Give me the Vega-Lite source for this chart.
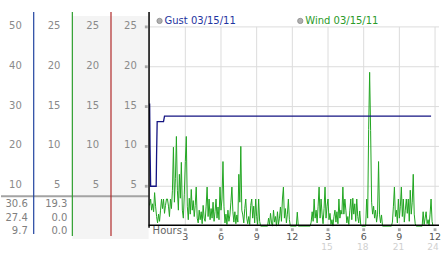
{
  "$schema": "https://vega.github.io/schema/vega-lite/v6.json",
  "width": 442,
  "height": 253,
  "autosize": {"type": "fit", "contains": "padding"},
  "padding": 0,
  "background": "white",
  "config": {"view": {"stroke": null}, "text": {"font": "DejaVu Sans", "fontSize": 10}},
  "encoding": {
    "x": {"field": "t", "type": "quantitative", "scale": {"domain": [-750, 1460], "nice": false, "zero": false}, "axis": null},
    "y": {"field": "v", "type": "quantitative", "scale": {"domain": [-3.25, 28.375], "nice": false, "zero": false}, "axis": null}
  },
  "layer": [
    {
      "data": {"values": [{"t": -390, "t2": -5, "v": 26.375, "v2": -1.625}]},
      "mark": {"type": "rect", "color": "#f4f4f4"},
      "encoding": {"x2": {"field": "t2"}, "y2": {"field": "v2"}}
    },
    {
      "data": {"values": [
        {"t": 0, "t2": 1460, "v": 5, "v2": 5},
        {"t": 0, "t2": 1460, "v": 10, "v2": 10},
        {"t": 0, "t2": 1460, "v": 15, "v2": 15},
        {"t": 0, "t2": 1460, "v": 20, "v2": 20},
        {"t": 0, "t2": 1460, "v": 25, "v2": 25},
        {"t": 180, "t2": 180, "v": 0, "v2": 25},
        {"t": 360, "t2": 360, "v": 0, "v2": 25},
        {"t": 540, "t2": 540, "v": 0, "v2": 25},
        {"t": 720, "t2": 720, "v": 0, "v2": 25},
        {"t": 900, "t2": 900, "v": 0, "v2": 25},
        {"t": 1080, "t2": 1080, "v": 0, "v2": 25},
        {"t": 1260, "t2": 1260, "v": 0, "v2": 25},
        {"t": 1440, "t2": 1440, "v": 0, "v2": 25}
      ]},
      "mark": {"type": "rule", "color": "#dcdcdc", "strokeWidth": 1},
      "encoding": {"x2": {"field": "t2"}, "y2": {"field": "v2"}}
    },
    {
      "data": {"values": [{"t": -750, "t2": -5, "v": 3.75, "v2": 3.75}]},
      "mark": {"type": "rule", "color": "#a3a3a3", "strokeWidth": 2},
      "encoding": {"x2": {"field": "t2"}, "y2": {"field": "v2"}}
    },
    {
      "data": {"values": [{"t": -585, "t2": -585, "v": 26.875, "v2": -1.0}]},
      "mark": {"type": "rule", "color": "#2244a0", "strokeWidth": 1.2},
      "encoding": {"x2": {"field": "t2"}, "y2": {"field": "v2"}}
    },
    {
      "data": {"values": [{"t": -390, "t2": -390, "v": 26.875, "v2": -1.25}]},
      "mark": {"type": "rule", "color": "#2e9e2e", "strokeWidth": 1.2},
      "encoding": {"x2": {"field": "t2"}, "y2": {"field": "v2"}}
    },
    {
      "data": {"values": [{"t": -195, "t2": -195, "v": 26.875, "v2": -1.25}]},
      "mark": {"type": "rule", "color": "#b02a2a", "strokeWidth": 1.2},
      "encoding": {"x2": {"field": "t2"}, "y2": {"field": "v2"}}
    },
    {
      "data": {"values": [
        {"t":0,"v":2.6},{"t":5,"v":3.4},{"t":10,"v":2.0},{"t":15,"v":2.8},{"t":20,"v":1.8},{"t":25,"v":4.2},{"t":30,"v":2.5},{"t":35,"v":1.2},{"t":40,"v":0.4},{"t":45,"v":1.5},
        {"t":50,"v":0.6},{"t":55,"v":2.0},{"t":60,"v":3.4},{"t":65,"v":2.2},{"t":70,"v":3.4},{"t":75,"v":1.6},{"t":80,"v":2.6},{"t":85,"v":3.4},{"t":90,"v":3.4},{"t":95,"v":2.5},
        {"t":100,"v":1.2},{"t":105,"v":3.4},{"t":110,"v":2.2},{"t":115,"v":4.5},{"t":120,"v":9.9},{"t":125,"v":3.0},{"t":130,"v":6.0},{"t":135,"v":11.25},{"t":140,"v":4.5},{"t":145,"v":2.0},
        {"t":150,"v":6.5},{"t":155,"v":3.5},{"t":160,"v":8.0},{"t":165,"v":2.0},{"t":170,"v":1.0},{"t":175,"v":4.0},{"t":180,"v":8.1},{"t":185,"v":11.25},{"t":190,"v":2.5},{"t":195,"v":0.8},
        {"t":200,"v":3.5},{"t":205,"v":1.5},{"t":210,"v":4.6},{"t":215,"v":2.0},{"t":220,"v":3.2},{"t":225,"v":1.2},{"t":230,"v":2.6},{"t":235,"v":4.9},{"t":240,"v":1.0},{"t":245,"v":0.4},
        {"t":250,"v":2.0},{"t":255,"v":0.8},{"t":260,"v":1.8},{"t":265,"v":0.3},{"t":270,"v":2.6},{"t":275,"v":1.0},{"t":280,"v":0.6},{"t":285,"v":2.5},{"t":290,"v":4.9},{"t":295,"v":1.2},
        {"t":300,"v":3.4},{"t":305,"v":0.8},{"t":310,"v":2.2},{"t":315,"v":1.0},{"t":320,"v":3.0},{"t":325,"v":0.6},{"t":330,"v":1.8},{"t":335,"v":3.4},{"t":340,"v":1.0},{"t":345,"v":2.4},
        {"t":350,"v":0.8},{"t":355,"v":4.9},{"t":360,"v":2.0},{"t":365,"v":3.4},{"t":370,"v":8.1},{"t":375,"v":2.5},{"t":380,"v":0.4},{"t":385,"v":1.5},{"t":390,"v":0.2},{"t":395,"v":2.0},
        {"t":400,"v":0.6},{"t":405,"v":1.4},{"t":410,"v":3.0},{"t":415,"v":4.9},{"t":420,"v":1.8},{"t":425,"v":0.5},{"t":430,"v":1.8},{"t":435,"v":0.3},{"t":440,"v":1.4},{"t":445,"v":0.5},
        {"t":450,"v":6.5},{"t":455,"v":3.0},{"t":460,"v":10.0},{"t":465,"v":2.0},{"t":470,"v":1.4},{"t":475,"v":0.4},{"t":480,"v":2.2},{"t":485,"v":3.4},{"t":490,"v":1.0},{"t":495,"v":0.3},
        {"t":500,"v":1.2},{"t":505,"v":0.2},{"t":510,"v":2.6},{"t":515,"v":3.4},{"t":520,"v":1.0},{"t":525,"v":2.5},{"t":530,"v":0.4},{"t":535,"v":3.4},{"t":540,"v":1.2},{"t":545,"v":0.2},
        {"t":550,"v":3.4},{"t":555,"v":0.6},{"t":560,"v":0},{"t":595,"v":0},{"t":600,"v":1.0},{"t":605,"v":0.2},{"t":610,"v":1.6},{"t":615,"v":0.4},{"t":620,"v":0},{"t":625,"v":2.0},
        {"t":630,"v":0.5},{"t":635,"v":1.2},{"t":640,"v":0},{"t":645,"v":1.8},{"t":650,"v":0.2},{"t":655,"v":1.0},{"t":660,"v":2.4},{"t":665,"v":0.6},{"t":670,"v":3.4},{"t":675,"v":4.9},
        {"t":680,"v":1.0},{"t":685,"v":2.2},{"t":690,"v":0.4},{"t":695,"v":1.5},{"t":700,"v":3.4},{"t":705,"v":0.8},{"t":710,"v":0},{"t":740,"v":0},{"t":745,"v":1.75},{"t":750,"v":0},
        {"t":810,"v":0},{"t":815,"v":0.5},{"t":820,"v":1.8},{"t":825,"v":0.6},{"t":830,"v":3.4},{"t":835,"v":1.0},{"t":840,"v":2.0},{"t":845,"v":0.4},{"t":850,"v":2.5},{"t":855,"v":4.9},
        {"t":860,"v":1.0},{"t":865,"v":3.4},{"t":870,"v":1.5},{"t":875,"v":0.3},{"t":880,"v":2.2},{"t":885,"v":4.9},{"t":890,"v":1.0},{"t":895,"v":2.5},{"t":900,"v":3.4},{"t":905,"v":0.8},
        {"t":910,"v":1.6},{"t":915,"v":0.2},{"t":920,"v":0.8},{"t":925,"v":0},{"t":930,"v":1.2},{"t":935,"v":2.0},{"t":940,"v":0.5},{"t":945,"v":1.8},{"t":950,"v":0.3},{"t":955,"v":3.4},
        {"t":960,"v":1.0},{"t":965,"v":2.0},{"t":970,"v":1.5},{"t":975,"v":4.9},{"t":980,"v":1.5},{"t":985,"v":3.4},{"t":990,"v":2.0},{"t":995,"v":0.4},{"t":1000,"v":1.2},{"t":1005,"v":0.2},
        {"t":1010,"v":2.0},{"t":1015,"v":3.4},{"t":1020,"v":0.8},{"t":1025,"v":3.5},{"t":1030,"v":1.5},{"t":1035,"v":2.8},{"t":1040,"v":0.6},{"t":1045,"v":3.4},{"t":1050,"v":1.2},{"t":1055,"v":0.4},
        {"t":1060,"v":1.9},{"t":1065,"v":0.2},{"t":1070,"v":0},{"t":1090,"v":0},{"t":1095,"v":3.4},{"t":1100,"v":1.0},{"t":1105,"v":12.1},{"t":1110,"v":19.3},{"t":1115,"v":12.0},{"t":1120,"v":3.0},
        {"t":1125,"v":1.5},{"t":1130,"v":2.5},{"t":1135,"v":1.0},{"t":1140,"v":2.0},{"t":1145,"v":0.5},{"t":1150,"v":1.5},{"t":1155,"v":8.1},{"t":1160,"v":1.5},{"t":1165,"v":0.4},{"t":1170,"v":1.4},
        {"t":1175,"v":0},{"t":1220,"v":0},{"t":1225,"v":0.5},{"t":1230,"v":2.5},{"t":1235,"v":4.9},{"t":1240,"v":1.2},{"t":1245,"v":2.0},{"t":1250,"v":0.4},{"t":1255,"v":3.4},{"t":1260,"v":1.0},
        {"t":1265,"v":2.5},{"t":1270,"v":4.9},{"t":1275,"v":1.2},{"t":1280,"v":3.4},{"t":1285,"v":0.5},{"t":1290,"v":2.0},{"t":1295,"v":3.4},{"t":1300,"v":1.6},{"t":1305,"v":3.4},{"t":1310,"v":0.6},
        {"t":1315,"v":4.5},{"t":1320,"v":1.5},{"t":1325,"v":3.0},{"t":1330,"v":6.5},{"t":1335,"v":1.5},{"t":1340,"v":0.3},{"t":1345,"v":0},{"t":1375,"v":0},{"t":1380,"v":1.8},{"t":1385,"v":0.2},
        {"t":1390,"v":1.0},{"t":1395,"v":1.8},{"t":1400,"v":0.3},{"t":1405,"v":0.8},{"t":1410,"v":0.1},{"t":1415,"v":1.5},{"t":1420,"v":3.4},{"t":1425,"v":0.6},{"t":1430,"v":0}
      ]},
      "mark": {"type": "line", "color": "#22a622", "strokeWidth": 1},
      "encoding": {}
    },
    {
      "data": {"values": [
        {"t": 0, "v": 15.4}, {"t": 2, "v": 10}, {"t": 5, "v": 5}, {"t": 33, "v": 5}, {"t": 35, "v": 9},
        {"t": 38, "v": 13.1}, {"t": 70, "v": 13.1}, {"t": 75, "v": 13.8}, {"t": 1420, "v": 13.8}
      ]},
      "mark": {"type": "line", "color": "#141482", "strokeWidth": 1.3},
      "encoding": {}
    },
    {
      "data": {"values": [
        {"t": -3, "t2": -3, "v": 26.875, "v2": -0.2},
        {"t": -5, "t2": 1460, "v": 0.1, "v2": 0.1}
      ]},
      "mark": {"type": "rule", "color": "#000000", "strokeWidth": 1.5},
      "encoding": {"x2": {"field": "t2"}, "y2": {"field": "v2"}}
    },
    {
      "data": {"values": [
        {"t": -645, "v": 25, "label": "50"}, {"t": -645, "v": 20, "label": "40"}, {"t": -645, "v": 15, "label": "30"}, {"t": -645, "v": 10, "label": "20"}, {"t": -645, "v": 5, "label": "10"},
        {"t": -450, "v": 25, "label": "25"}, {"t": -450, "v": 20, "label": "20"}, {"t": -450, "v": 15, "label": "15"}, {"t": -450, "v": 10, "label": "10"}, {"t": -450, "v": 5, "label": "5"},
        {"t": -255, "v": 25, "label": "25"}, {"t": -255, "v": 20, "label": "20"}, {"t": -255, "v": 15, "label": "15"}, {"t": -255, "v": 10, "label": "10"}, {"t": -255, "v": 5, "label": "5"},
        {"t": -65, "v": 25, "label": "25"}, {"t": -65, "v": 20, "label": "20"}, {"t": -65, "v": 15, "label": "15"}, {"t": -65, "v": 10, "label": "10"}, {"t": -65, "v": 5, "label": "5"}
      ]},
      "mark": {"type": "text", "color": "#8a8a8a", "align": "right", "baseline": "middle", "dy": -1},
      "encoding": {"text": {"field": "label"}}
    },
    {
      "data": {"values": [
        {"t": -615, "v": 2.75, "label": "30.6"}, {"t": -615, "v": 1.06, "label": "27.4"}, {"t": -615, "v": -0.56, "label": "9.7"},
        {"t": -415, "v": 2.75, "label": "19.3"}, {"t": -415, "v": 1.06, "label": "0.0"}, {"t": -415, "v": -0.56, "label": "0.0"}
      ]},
      "mark": {"type": "text", "color": "#808080", "align": "right", "baseline": "middle"},
      "encoding": {"text": {"field": "label"}}
    },
    {
      "data": {"values": [
        {"t": -17, "v": 25}, {"t": -17, "v": 20}, {"t": -17, "v": 15}, {"t": -17, "v": 10}, {"t": -17, "v": 5},
        {"t": 180, "v": -0.45}, {"t": 360, "v": -0.45}, {"t": 540, "v": -0.45}, {"t": 720, "v": -0.45},
        {"t": 900, "v": -0.45}, {"t": 1080, "v": -0.45}, {"t": 1260, "v": -0.45}, {"t": 1440, "v": -0.45}
      ]},
      "mark": {"type": "point", "shape": "square", "filled": true, "color": "#a8a8a8", "size": 8, "opacity": 1},
      "encoding": {}
    },
    {
      "data": {"values": [
        {"t": 180, "v": -1.35, "label": "3"}, {"t": 360, "v": -1.35, "label": "6"}, {"t": 540, "v": -1.35, "label": "9"}, {"t": 720, "v": -1.35, "label": "12"},
        {"t": 900, "v": -1.35, "label": "3"}, {"t": 1080, "v": -1.35, "label": "6"}, {"t": 1260, "v": -1.35, "label": "9"}, {"t": 1440, "v": -1.35, "label": "12"}
      ]},
      "mark": {"type": "text", "color": "#555555", "align": "center", "baseline": "middle", "fontSize": 9.5},
      "encoding": {"text": {"field": "label"}}
    },
    {
      "data": {"values": [
        {"t": 895, "v": -2.65, "label": "15"}, {"t": 1075, "v": -2.65, "label": "18"}, {"t": 1255, "v": -2.65, "label": "21"}, {"t": 1430, "v": -2.65, "label": "24"}
      ]},
      "mark": {"type": "text", "color": "#d0d0d0", "align": "center", "baseline": "middle", "fontSize": 9},
      "encoding": {"text": {"field": "label"}}
    },
    {
      "data": {"values": [{"t": 15, "v": -0.6, "label": "Hours"}]},
      "mark": {"type": "text", "color": "#666666", "align": "left", "baseline": "middle"},
      "encoding": {"text": {"field": "label"}}
    },
    {
      "data": {"values": [{"t": 50, "v": 25.75}, {"t": 760, "v": 25.75}]},
      "mark": {"type": "point", "filled": true, "color": "#b0b0b0", "size": 28, "stroke": "#8a8a8a", "strokeWidth": 0.8, "opacity": 1},
      "encoding": {}
    },
    {
      "data": {"values": [{"t": 75, "v": 25.75, "label": "Gust 03/15/11"}]},
      "mark": {"type": "text", "color": "#1f35a0", "align": "left", "baseline": "middle"},
      "encoding": {"text": {"field": "label"}}
    },
    {
      "data": {"values": [{"t": 785, "v": 25.75, "label": "Wind 03/15/11"}]},
      "mark": {"type": "text", "color": "#2a9a2a", "align": "left", "baseline": "middle"},
      "encoding": {"text": {"field": "label"}}
    }
  ]
}
